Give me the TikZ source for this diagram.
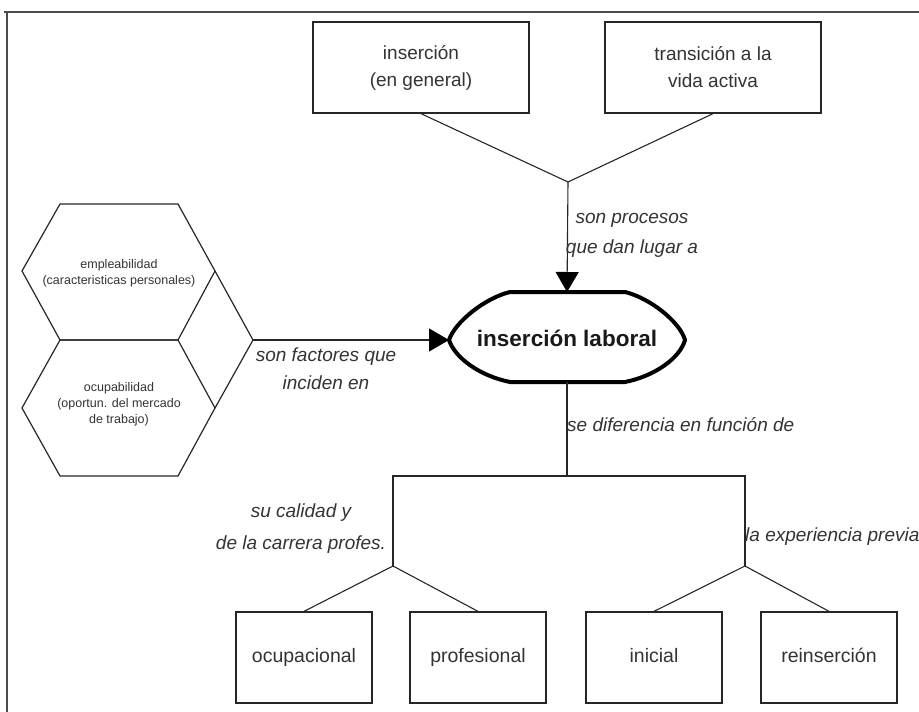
\documentclass[tikz,border=0pt]{standalone}
\usepackage{fontspec}
\setmainfont{Liberation Sans}
\usetikzlibrary{arrows.meta}
\begin{document}
\begin{tikzpicture}[x=1pt,y=-1pt,
  box/.style={draw=black!85, line width=1.3pt, minimum width=216pt, minimum height=91pt, align=center, font=\fontsize{19}{27}\selectfont, text=black!80, inner sep=0pt},
  lbox/.style={draw=black!85, line width=1.3pt, minimum width=136pt, minimum height=91pt, inner sep=0pt, text height=14pt, text depth=4pt, font=\fontsize{19.5}{27}\selectfont, text=black!80},
  lab/.style={font=\fontsize{19}{28}\selectfont\itshape, text=black!80, align=center, inner sep=0pt},
  hextxt/.style={font=\fontsize{12.5}{16}\selectfont, text=black!80, align=center, inner sep=0pt},
  hexline/.style={draw=black!85, line width=1.2pt, line join=miter},
  conn/.style={draw=black!85, line width=1.1pt},
  arr/.style={conn, -{Triangle[length=20pt,width=23pt,color=black]}},
]
\useasboundingbox (0,0) rectangle (919,712);
% frame
\draw[black!70, line width=2.6pt] (4,12) -- (919,12);
\draw[black!70, line width=2.8pt] (7,12) -- (7,712);

% top boxes
\node[box] (ins) at (421,67.5) {inserción\\(en general)};
\node[box] (tra) at (713,67.5) {transición a la\\vida activa};
\coordinate (j1) at (568,182);
\draw[conn] (ins.south) -- (j1) -- (tra.south);

% main node
\coordinate (iltop) at (567,292);
\coordinate (ilbot) at (567,382);
\coordinate (illeft) at (449,340);
\draw[line width=4pt, black, line join=round]
  (510,292) -- (625,292) .. controls (650,298) and (680,322) .. (685,340)
  .. controls (680,358) and (655,376) .. (625,382) -- (510,382)
  .. controls (480,376) and (455,358) .. (449,340)
  .. controls (455,322) and (485,298) .. (510,292) -- cycle;
\node[font=\fontsize{22.5}{26}\selectfont\bfseries, text=black!90] (il) at (567,338) {inserción laboral};

\draw[arr] (j1) -- (iltop);
\node[lab, font=\fontsize{19}{30}\selectfont\itshape] (l1) at (632,235) {son procesos\\que dan lugar a};

% hexagons
\draw[hexline] (60,204) -- (178,204) -- (215,271) -- (178,340) -- (60,340) -- (22,271) -- cycle;
\draw[hexline] (60,340) -- (178,340) -- (215,408) -- (178,476) -- (60,476) -- (22,408) -- cycle;
\coordinate (hexr) at (253,340);
\draw[hexline] (215,271) -- (hexr) -- (215,408);
\node[hextxt] (emp) at (119,273) {empleabilidad\\(caracteristicas personales)};
\node[hextxt] (ocu) at (119,404) {ocupabilidad\\(oportun. del mercado\\de trabajo)};

\draw[arr] (hexr) -- (illeft);
\node[lab] (l2) at (326,369) {son factores que\\inciden en};

% lower tree
\coordinate (jc) at (567,476);
\coordinate (jl) at (393,476);
\coordinate (jr) at (745,476);
\coordinate (kl) at (393,566);
\coordinate (kr) at (745,566);
\draw[conn] (ilbot) -- (jc);
\draw[conn] (kl) -- (jl) -- (jr) -- (kr);
\node[lab, anchor=west] (l3) at (567,425) {se diferencia en función de};

\node[lbox] (ocp) at (304,657.5) {ocupacional};
\node[lbox] (pro) at (478,657.5) {profesional};
\node[lbox] (ini) at (654,657.5) {inicial};
\node[lbox] (rei) at (829,657.5) {reinserción};
\draw[conn] (ocp.north) -- (kl) -- (pro.north);
\draw[conn] (ini.north) -- (kr) -- (rei.north);

\node[lab, font=\fontsize{19}{32}\selectfont\itshape] (l4) at (301,529) {su calidad y\\de la carrera profes.};
\node[lab, anchor=west] (l5) at (745,537) {la experiencia previa};
\end{tikzpicture}
\end{document}
